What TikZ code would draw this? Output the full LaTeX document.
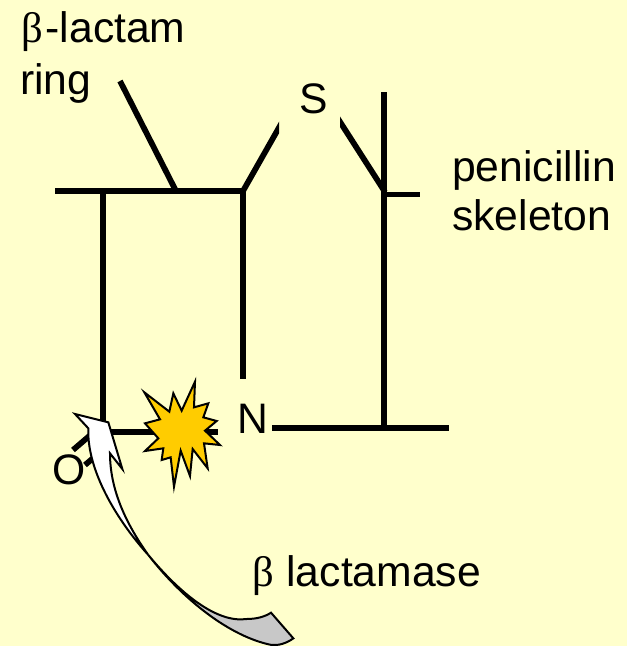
\documentclass[tikz,border=0pt]{standalone}
\usepackage{fontspec}
\setmainfont{Liberation Sans}
\newfontfamily\greekfont{Liberation Serif}
\definecolor{paper}{HTML}{FFFFCC}
\definecolor{burst}{HTML}{FFCC00}
\definecolor{tailgrey}{HTML}{C8C8C8}
\tikzset{
  bond/.style={line width=4.3pt,black},
  label/.style={anchor=base west,inner sep=0pt,font=\fontsize{32pt}{36pt}\selectfont},
  arrowpart/.style={draw=black,line width=1.5pt,line join=miter},
}
\begin{document}
\begin{tikzpicture}[x=0.75pt,y=-0.75pt]
\useasboundingbox[fill=paper] (0,0) rectangle (627,646);
% bond points
\coordinate (a1) at (55,191);
\coordinate (a2) at (103,191);
\coordinate (a3) at (176,191);
\coordinate (a4) at (243,191);
\coordinate (b1) at (120,81);
\coordinate (s1) at (285,117);
\coordinate (s2) at (335,114);
\coordinate (c1) at (385,192);
\coordinate (c2) at (384,92);
\coordinate (c3) at (384,428);
\coordinate (c4) at (420,194.5);
\coordinate (c5) at (384,194.5);
\coordinate (d1) at (103,432);
\coordinate (d2) at (218,432);
\coordinate (e1) at (243,379);
\coordinate (f1) at (272,428);
\coordinate (f2) at (449,428);
\coordinate (o1) at (73,450);
\coordinate (o2) at (101,426);
\coordinate (o3) at (85,465);
\coordinate (o4) at (112,442);
% bonds
\draw[bond] (a1) -- (a4);
\draw[bond] (a2) -- (d1);
\draw[bond] (b1) -- (a3);
\draw[bond] (a4) -- (e1);
\begin{scope}
\clip (200,100) rectangle (279,200);
\draw[bond] (a4) -- (s1);
\end{scope}
\begin{scope}
\clip (340,100) rectangle (400,200);
\draw[bond] (s2) -- (c1);
\end{scope}
\draw[bond] (c2) -- (c3);
\draw[bond] (c5) -- (c4);
\draw[bond] (d1) -- (d2);
\draw[bond] (f1) -- (f2);
\draw[bond] (o1) -- (o2);
\draw[bond] (o3) -- (o4);
% labels
\node[label] (tb) at (21,42) {{\greekfont β}\kern2pt-lactam};
\node[label] (tr) at (20,94) {ring};
\node[label] (ts) at (299,113) {S};
\node[label] (tp) at (452,181) {penicillin};
\node[label] (tk) at (452,230) {skeleton};
\node[label] (tn) at (237,433) {N};
\node[label] (to) at (52,484) {O};
\node[label] (tl) at (252,586) {{\greekfont β}\kern0.5pt\ lactamase};
% burst and curved arrow, traced at three times the size
\begin{scope}[shift={(40,370)},scale=1/3]
\draw[arrowpart,fill=burst,miter limit=20]
  (465,35) -- (462,112) -- (505,100) -- (490,142) -- (530,153) -- (495,182) -- (540,225)
  -- (492,220) -- (503,295) -- (458,237) -- (450,318) -- (422,242) -- (402,350)
  -- (392,262) -- (365,270) -- (370,235) -- (315,243) -- (355,205) -- (315,160)
  -- (360,148) -- (313,67) -- (388,125) -- (400,70) -- (425,122) -- cycle;
\draw[arrowpart,fill=tailgrey]
  (325,555) .. controls (420,670) and (530,760) .. (620,747)
  .. controls (650,747) and (675,740) .. (693,728)
  -- (760,805)
  .. controls (740,820) and (715,827) .. (695,825)
  .. controls (570,800) and (430,690) .. (325,555) -- cycle;
\draw[arrowpart,fill=white]
  (105,132) -- (205,157) -- (247,297) -- (210,250)
  .. controls (210,350) and (250,450) .. (325,555)
  .. controls (230,450) and (140,300) .. (145,175)
  -- cycle;
\end{scope}
\end{tikzpicture}
\end{document}
